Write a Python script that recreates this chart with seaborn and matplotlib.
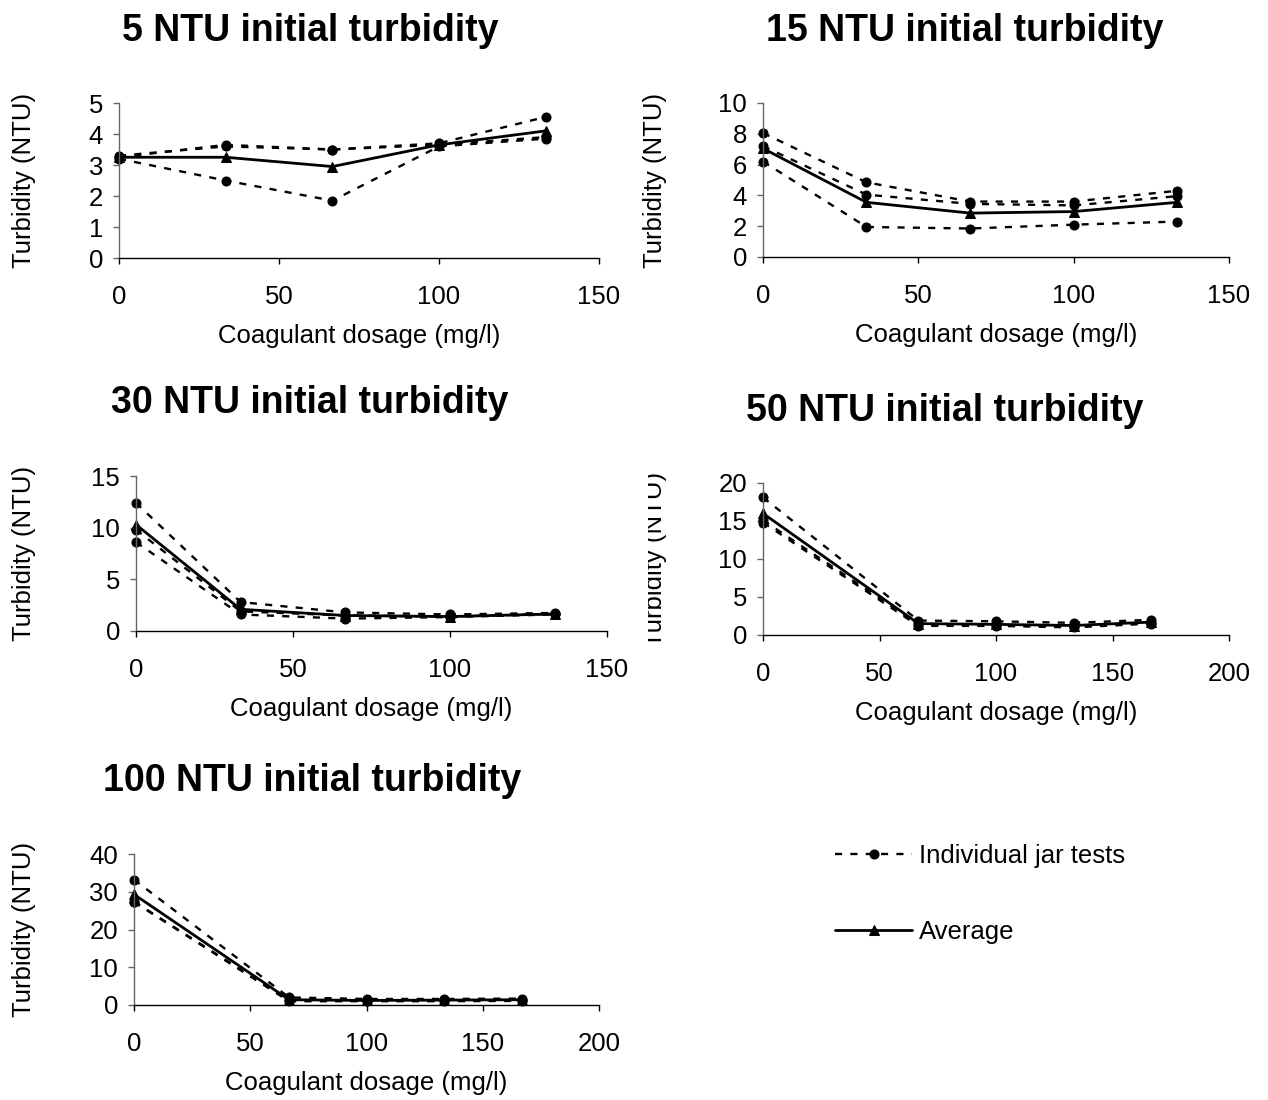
import matplotlib
matplotlib.use("Agg")
import matplotlib.pyplot as plt
from matplotlib.transforms import Bbox
import seaborn as sns

# coagulant doses (mg/l)
dose_low = [0, 33.3, 66.7, 100, 133.3]
dose_high = [0, 66.7, 100, 133.3, 166.7]

# 5 NTU initial turbidity
ntu5_jar1 = [3.3, 3.6, 3.5, 3.7, 4.55]
ntu5_jar2 = [3.2, 2.5, 1.85, 3.6, 3.85]
ntu5_jar3 = [3.25, 3.65, 3.5, 3.65, 3.9]
ntu5_avg = [3.25, 3.25, 2.95, 3.65, 4.1]

# 15 NTU initial turbidity
ntu15_jar1 = [8.05, 4.85, 3.6, 3.6, 4.3]
ntu15_jar2 = [7.2, 4.05, 3.45, 3.35, 3.95]
ntu15_jar3 = [6.2, 1.95, 1.85, 2.1, 2.3]
ntu15_avg = [7.05, 3.55, 2.85, 2.95, 3.55]

# 30 NTU initial turbidity
ntu30_jar1 = [12.4, 2.8, 1.8, 1.6, 1.75]
ntu30_jar2 = [9.8, 1.9, 1.5, 1.4, 1.65]
ntu30_jar3 = [8.6, 1.6, 1.2, 1.35, 1.6]
ntu30_avg = [10.3, 2.1, 1.5, 1.4, 1.65]

# 50 NTU initial turbidity
ntu50_jar1 = [18.1, 1.9, 1.8, 1.6, 2.0]
ntu50_jar2 = [15.1, 1.4, 1.3, 1.2, 1.6]
ntu50_jar3 = [14.8, 1.2, 1.2, 1.0, 1.5]
ntu50_avg = [16.0, 1.5, 1.4, 1.25, 1.7]

# 100 NTU initial turbidity
ntu100_jar1 = [33.2, 2.0, 1.6, 1.6, 1.7]
ntu100_jar2 = [27.4, 1.2, 1.1, 1.2, 1.3]
ntu100_jar3 = [27.3, 1.0, 1.0, 1.0, 1.1]
ntu100_avg = [29.3, 1.4, 1.2, 1.3, 1.4]

titles = ["5 NTU initial turbidity", "15 NTU initial turbidity",
          "30 NTU initial turbidity", "50 NTU initial turbidity",
          "100 NTU initial turbidity"]
x_ticks = [[0, 50, 100, 150], [0, 50, 100, 150], [0, 50, 100, 150],
           [0, 50, 100, 150, 200], [0, 50, 100, 150, 200]]
y_ticks = [[0, 1, 2, 3, 4, 5], [0, 2, 4, 6, 8, 10], [0, 5, 10, 15],
           [0, 5, 10, 15, 20], [0, 10, 20, 30, 40]]

sns.set_style("ticks")
plt.rcParams["font.family"] = ["Liberation Sans", "DejaVu Sans"]
plt.rcParams["text.color"] = "black"
plt.rcParams["axes.labelcolor"] = "black"
plt.rcParams["xtick.color"] = "black"
plt.rcParams["ytick.color"] = "black"

W, H = 1268, 1100
fig = plt.figure(figsize=(W / 100, H / 100), dpi=100)


def px_axes(left, top, right, bottom):
    # pixel box -> figure fraction axes
    return fig.add_axes([left / W, 1 - bottom / H, (right - left) / W, (bottom - top) / H])


# axes boxes in pixels, title centres, y label x centre
layout = [
    ((119, 103, 599, 258), (310, 31), 24),
    ((763, 103, 1229, 257), (965, 31), 655),
    ((136, 476, 607, 631), (310, 403), 24),
    ((763, 483, 1229, 635), (945, 411), 655),
    ((134, 854, 599, 1005), (312, 781), 24),
]

panels = [
    (dose_low, [ntu5_jar1, ntu5_jar2, ntu5_jar3], ntu5_avg),
    (dose_low, [ntu15_jar1, ntu15_jar2, ntu15_jar3], ntu15_avg),
    (dose_low, [ntu30_jar1, ntu30_jar2, ntu30_jar3], ntu30_avg),
    (dose_high, [ntu50_jar1, ntu50_jar2, ntu50_jar3], ntu50_avg),
    (dose_high, [ntu100_jar1, ntu100_jar2, ntu100_jar3], ntu100_avg),
]

fs = 18.5
axes = []
for i, (dose, jars, avg) in enumerate(panels):
    box, (tx, ty), ylx = layout[i]
    ax = px_axes(*box)
    axes.append(ax)

    # individual jar tests, dashed with circles
    for j, jar in enumerate(jars):
        sns.lineplot(x=dose, y=jar, ax=ax, color="black", linewidth=1.7,
                     linestyle=(0, (3, 3.5)), marker="o", markersize=6.5,
                     markeredgecolor="black", legend=False,
                     label="Individual jar tests" if j == 0 else "_nolegend_")

    # average, solid with triangles
    sns.lineplot(x=dose, y=avg, ax=ax, color="black", linewidth=2.0,
                 marker="^", markersize=7.5, markeredgecolor="black",
                 legend=False, label="Average")

    ax.set_xlim(x_ticks[i][0], x_ticks[i][-1])
    ax.set_ylim(y_ticks[i][0], y_ticks[i][-1])
    ax.set_xticks(x_ticks[i])
    ax.set_yticks(y_ticks[i])
    ax.tick_params(axis="both", labelsize=fs, direction="out", length=4.5,
                   width=1, colors="black")
    ax.tick_params(axis="x", pad=15)
    ax.tick_params(axis="y", pad=7, color="#666666")
    sns.despine(ax=ax)
    ax.spines["left"].set_color("#666666")
    ax.spines["bottom"].set_color("black")
    for sp in ["left", "bottom"]:
        ax.spines[sp].set_linewidth(1)
    for ln in ax.lines:
        ln.set_clip_on(False)

    ax.set_xlabel("Coagulant dosage (mg/l)", fontsize=fs, labelpad=11)
    ax.set_ylabel("Turbidity (NTU)", fontsize=fs)
    ax.yaxis.label.set_va("center")
    yc = 1 - (box[1] + box[3]) / 2 / H
    ax.yaxis.set_label_coords(ylx / W, yc, transform=fig.transFigure)

    fig.text(tx / W, 1 - ty / H, titles[i], ha="center", va="center",
             fontsize=27, fontweight="bold")

# the 50 NTU y label is cut off at its left edge in the original
lab = axes[3].yaxis.label
lab.set_clip_on(True)
lab.set_clip_box(Bbox.from_extents(648, 0, W, H))

# legend in the empty bottom-right slot
handles, labels = axes[4].get_legend_handles_labels()
fig.legend(handles, labels, loc="center left",
           bbox_to_anchor=(812 / W, 1 - 894 / H), frameon=False,
           fontsize=fs, handlelength=3.0, handletextpad=0.25,
           labelspacing=2.05, numpoints=1)

fig.savefig("out.png", dpi=100)
